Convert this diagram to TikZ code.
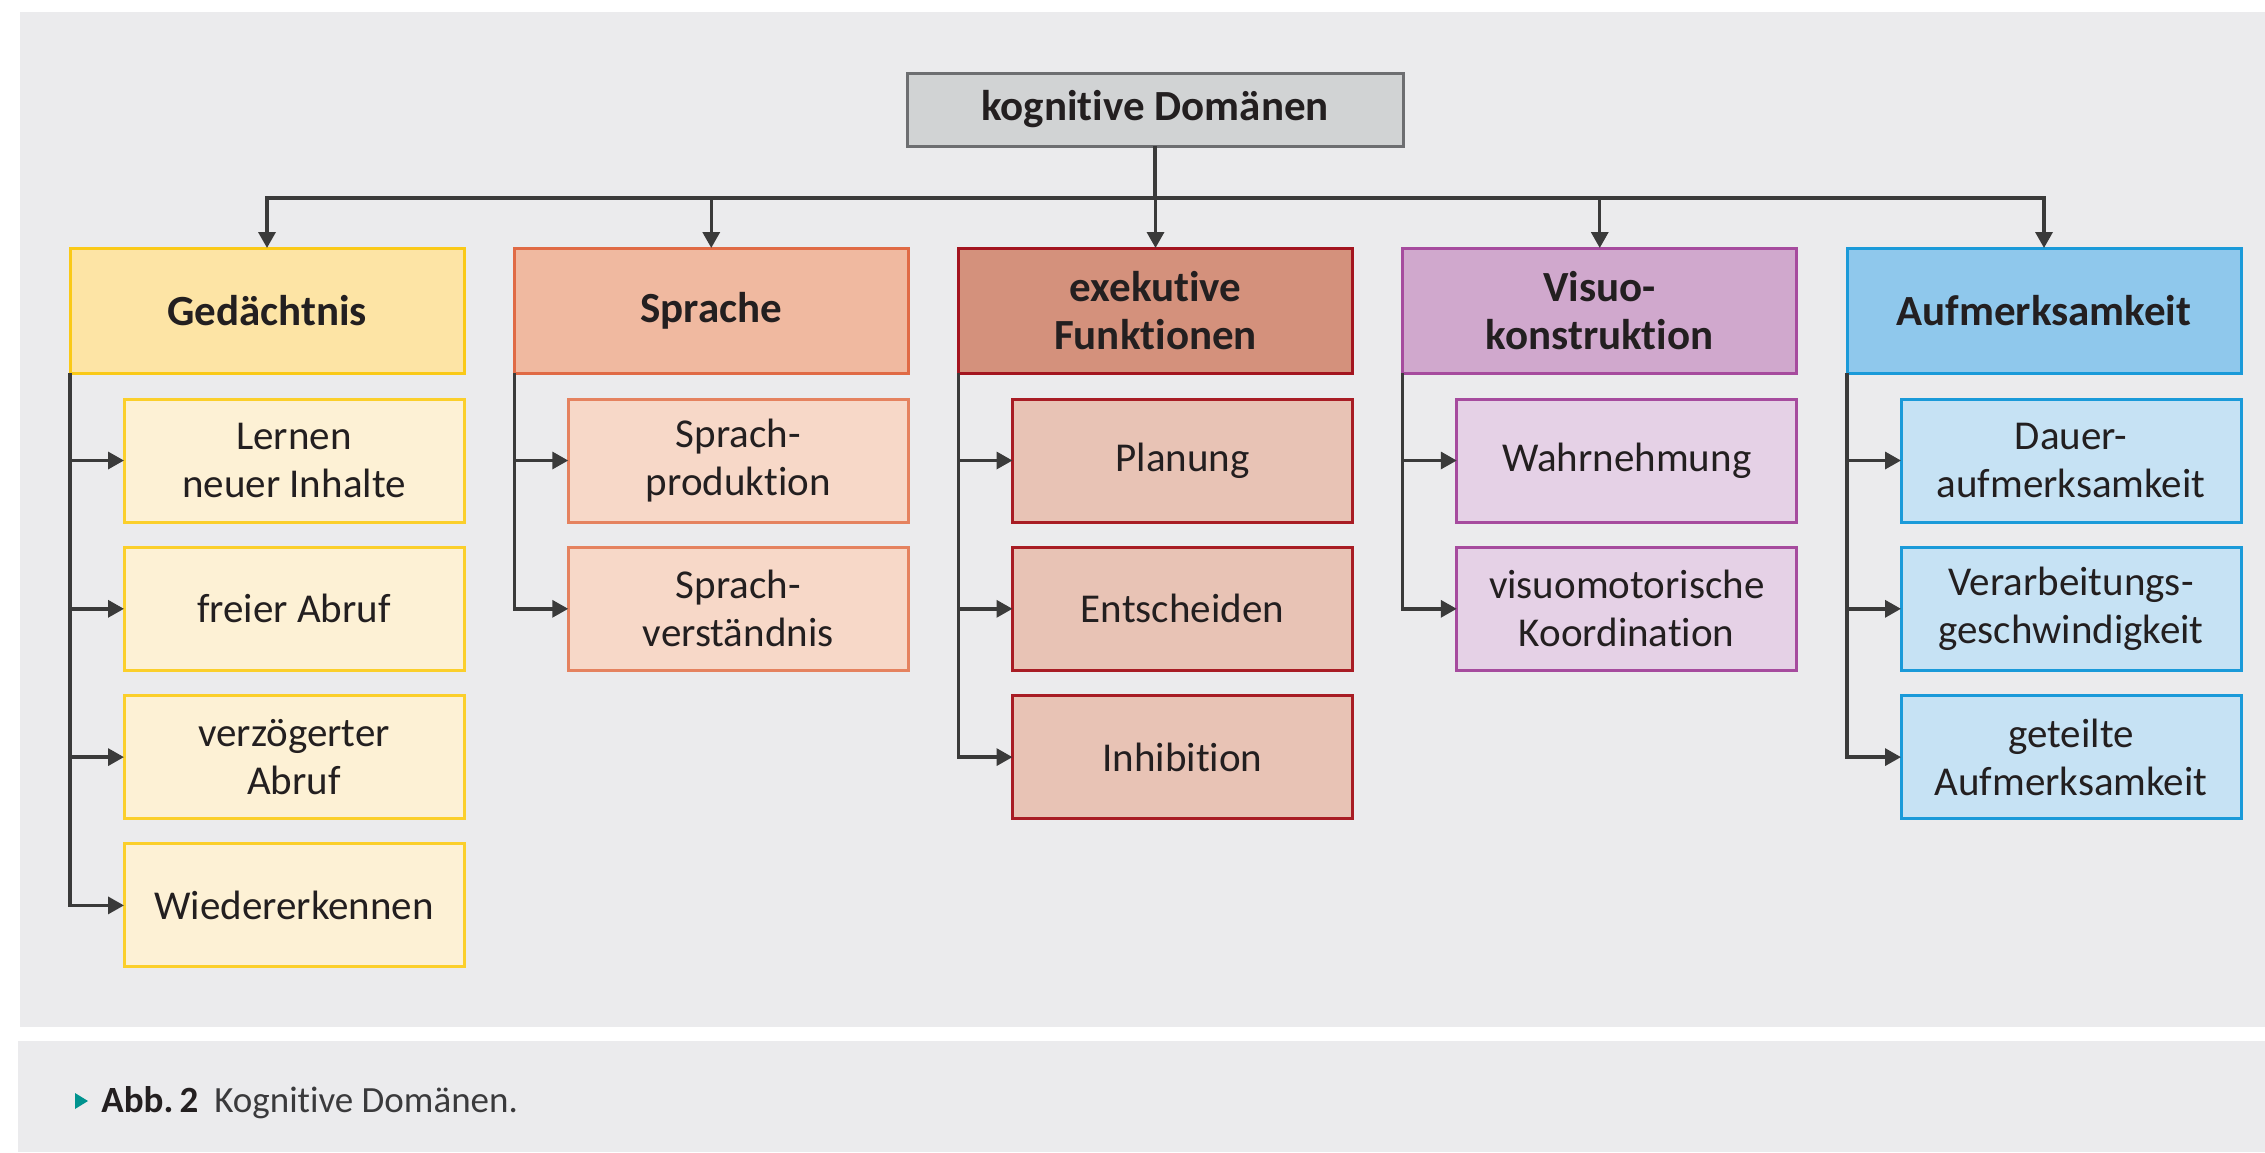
\documentclass[tikz,border=0pt]{standalone}
\usepackage{fontspec}
\setmainfont{Carlito}[Ligatures={NoCommon}]
\usetikzlibrary{arrows.meta}
\definecolor{bg}{HTML}{EBEBED}
\definecolor{txt}{HTML}{231F20}
\definecolor{conncol}{HTML}{3A3A3A}
\definecolor{topfill}{HTML}{D1D3D4}
\definecolor{topdraw}{HTML}{6D6E71}
\definecolor{gedfill}{HTML}{FDE4A5}
\definecolor{geddraw}{HTML}{FAC917}
\definecolor{gedsub}{HTML}{FDF1D5}
\definecolor{gedsubdraw}{HTML}{FBCF2B}
\definecolor{sprfill}{HTML}{F0B9A0}
\definecolor{sprdraw}{HTML}{E06A45}
\definecolor{sprsub}{HTML}{F7D8C8}
\definecolor{sprsubdraw}{HTML}{E5825F}
\definecolor{exefill}{HTML}{D4917C}
\definecolor{exedraw}{HTML}{A3141F}
\definecolor{exesub}{HTML}{E8C3B5}
\definecolor{exesubdraw}{HTML}{A81C24}
\definecolor{visfill}{HTML}{D0A8CD}
\definecolor{visdraw}{HTML}{A64B9E}
\definecolor{vissub}{HTML}{E5D1E6}
\definecolor{visubdraw}{HTML}{A64B9E}
\definecolor{auffill}{HTML}{8FC8EC}
\definecolor{aufdraw}{HTML}{1A9AD9}
\definecolor{aufsub}{HTML}{C6E2F4}
\definecolor{capmark}{HTML}{00938F}
\definecolor{captxt}{HTML}{3A3A3C}
\begin{document}
\begin{tikzpicture}[x=0.5pt,y=-0.5pt,
  box/.style={draw, line width=1.5pt, inner sep=0pt, outer sep=0pt, align=center, text=txt, anchor=north west},
  head/.style={box, minimum width=197pt, minimum height=62.5pt, font=\bfseries\fontsize{21.5}{24}\selectfont},
  subbox/.style={box, minimum width=170pt, minimum height=61.5pt, font=\fontsize{20.5}{24}\selectfont},
  conn/.style={draw=conncol, line width=1.7pt, -{Triangle[length=8pt,width=8.5pt]}},
  ged/.style={head, fill=gedfill, draw=geddraw},
  gedc/.style={subbox, fill=gedsub, draw=gedsubdraw},
  spr/.style={head, fill=sprfill, draw=sprdraw},
  sprc/.style={subbox, fill=sprsub, draw=sprsubdraw},
  exe/.style={head, fill=exefill, draw=exedraw},
  exec/.style={subbox, fill=exesub, draw=exesubdraw},
  vis/.style={head, fill=visfill, draw=visdraw},
  visc/.style={subbox, fill=vissub, draw=visubdraw},
  auf/.style={head, fill=auffill, draw=aufdraw},
  aufc/.style={subbox, fill=aufsub, draw=aufdraw}
]
\useasboundingbox (0,0) rectangle (2265,1152);
\fill[white] (0,0) rectangle (2265,1152);
\fill[bg] (20,12) rectangle (2265,1027);
\fill[bg] (18,1041) rectangle (2265,1152);

% top node
\node[box, fill=topfill, draw=topdraw, minimum width=248pt, minimum height=36.5pt,
      font=\bfseries\fontsize{21.5}{24}\selectfont] (top) at (907,73) {kognitive Domänen};
\coordinate (bus) at (1155.5,198);

% level 1
\node[ged] (G) at (70,248) {Gedächtnis};
\node[spr] (S) at (514.25,248) {Sprache};
\node[exe] (E) at (958.5,248) {exekutive\\Funktionen};
\node[vis] (V) at (1402.75,248) {Visuo-\\konstruktion};
\node[auf] (A) at (1847,248) {Aufmerksamkeit};

\foreach \n in {G,S,E,V,A}
  \draw[conn] (top.south) -- (top.south |- bus) -| (\n.north);

% Gedaechtnis
\node[gedc] (G1) at (124,399) {Lernen\\neuer Inhalte};
\node[gedc] (G2) at (124,547.3) {freier Abruf};
\node[gedc] (G3) at (124,695.6) {verzögerter\\Abruf};
\node[gedc] (G4) at (124,843.9) {Wiedererkennen};
% Sprache
\node[sprc] (S1) at (568.25,399) {Sprach-\\produktion};
\node[sprc] (S2) at (568.25,547.3) {Sprach-\\verständnis};
% exekutive
\node[exec] (E1) at (1012.5,399) {Planung};
\node[exec] (E2) at (1012.5,547.3) {Entscheiden};
\node[exec] (E3) at (1012.5,695.6) {Inhibition};
% Visuo
\node[visc] (V1) at (1456.75,399) {Wahrnehmung};
\node[visc] (V2) at (1456.75,547.3) {visuomotorische\\Koordination};
% Aufmerksamkeit
\node[aufc] (A1) at (1901,399) {Dauer-\\aufmerksamkeit};
\node[aufc] (A2) at (1901,547.3) {Verarbeitungs-\\geschwindigkeit};
\node[aufc] (A3) at (1901,695.6) {geteilte\\Aufmerksamkeit};

\foreach \c in {G1,G2,G3,G4} \draw[conn] (G.south west) |- (\c.west);
\foreach \c in {S1,S2} \draw[conn] (S.south west) |- (\c.west);
\foreach \c in {E1,E2,E3} \draw[conn] (E.south west) |- (\c.west);
\foreach \c in {V1,V2} \draw[conn] (V.south west) |- (\c.west);
\foreach \c in {A1,A2,A3} \draw[conn] (A.south west) |- (\c.west);

% caption
\fill[capmark] (75,1093) -- (88,1101) -- (75,1109) -- cycle;
\node[anchor=base west, inner sep=0pt, font=\fontsize{18.5}{22}\selectfont, text=captxt] (cap) at (101,1112)
  {\textcolor{txt}{\bfseries Abb.\,2}\hspace{8pt}Kognitive Domänen.};
\end{tikzpicture}
\end{document}
